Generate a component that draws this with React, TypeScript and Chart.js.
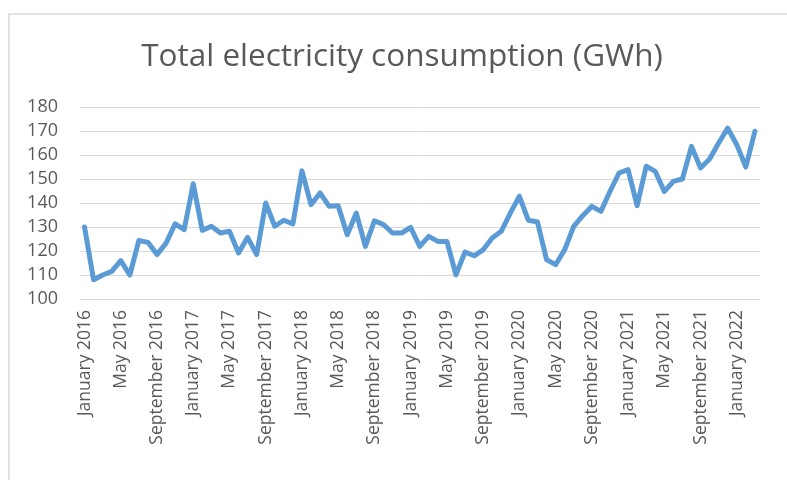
import React, { useEffect, useRef } from "react";
import { Chart, registerables } from "chart.js";

Chart.register(...registerables);

const MONTHS = ["January", "February", "March", "April", "May", "June", "July", "August", "September", "October", "November", "December"];
const YEARS = [2016, 2017, 2018, 2019, 2020, 2021, 2022];

const consumption = [
  130, 108, 110, 111.5, 116, 110, 124.4, 123.6, 118.5, 123.3, 131.3, 128.9,
  148, 128.6, 130.3, 127.5, 128.2, 119.2, 125.7, 118.5, 140, 130.3, 132.8, 131.3,
  153.4, 139.3, 144.2, 138.6, 138.9, 126.8, 135.8, 121.9, 132.6, 131, 127.5, 127.5,
  129.8, 121.9, 126.1, 124, 124, 110.1, 119.6, 118, 120.5, 125.4, 128.2, 135.8,
  142.8, 132.8, 132.1, 116.4, 114.3, 120.5, 130.3, 134.7, 138.6, 136.5, 144.8, 152.5,
  153.9, 138.9, 155.3, 153.2, 144.8, 149, 150, 163.6, 154.6, 158.3, 165, 171.2,
  164.3, 155, 169.9,
];

const categories: string[] = [];
YEARS.forEach((y) => MONTHS.forEach((m) => categories.push(m + " " + y)));
const labels = categories.slice(0, consumption.length);

const TITLE = "Total electricity consumption (GWh)";
const Y_MIN = 100;
const Y_MAX = 180;
const Y_STEP = 10;

const titlePlugin = {
  id: "excelTitle",
  afterDraw(chart: any) {
    const ctx = chart.ctx;
    ctx.save();
    ctx.fillStyle = "#595959";
    ctx.font = "31.5px 'Open Sans'";
    ctx.textAlign = "center";
    ctx.textBaseline = "middle";
    ctx.fillText(TITLE, 402, 57);
    ctx.restore();
  },
};

export default function App() {
  const ref = useRef<HTMLCanvasElement | null>(null);
  useEffect(() => {
    if (!ref.current) return;
    const chart = new Chart(ref.current, {
      type: "line",
      data: {
        labels,
        datasets: [
          {
            data: consumption,
            borderColor: "#5b9bd5",
            borderWidth: 5,
            pointRadius: 0,
            tension: 0,
            borderCapStyle: "round",
            borderJoinStyle: "round",
          },
        ],
      },
      plugins: [titlePlugin],
      options: {
        responsive: false,
        animation: false,
        layout: { padding: { left: 0, right: 17, top: 107, bottom: 0 } },
        plugins: {
          legend: { display: false },
          tooltip: { enabled: false },
          title: { display: false },
        },
        scales: {
          x: {
            offset: true,
            grid: { display: false, drawTicks: false },
            border: { display: false },
            afterFit: (s: any) => { s.height = 181; },
            ticks: {
              autoSkip: false,
              maxRotation: 90,
              minRotation: 90,
              padding: 11,
              color: "#595959",
              font: { family: "'Open Sans'", size: 17.5 },
              callback: (_v: any, i: number) => (i % 4 === 0 ? labels[i] : ""),
            },
          },
          y: {
            min: Y_MIN,
            max: Y_MAX,
            afterFit: (s: any) => { s.width = 80; },
            grid: { color: "#d9d9d9", lineWidth: 1, drawTicks: false },
            border: { display: false },
            ticks: {
              stepSize: Y_STEP,
              autoSkip: false,
              padding: 22,
              color: "#595959",
              font: { family: "'Open Sans'", size: 18 },
            },
          },
        },
      },
    });
    return () => chart.destroy();
  }, []);

  return (
    <div style={{ position: "fixed", left: 0, top: 0, width: 787, height: 480, background: "#fff", overflow: "hidden" }}>
      <div style={{ position: "absolute", left: 8, top: 13, width: 800, height: 480, borderLeft: "2px solid #e3e3e3", borderTop: "2px solid #e3e3e3" }} />
      <canvas ref={ref} width={787} height={480} style={{ position: "absolute", left: 0, top: 0 }} />
    </div>
  );
}
